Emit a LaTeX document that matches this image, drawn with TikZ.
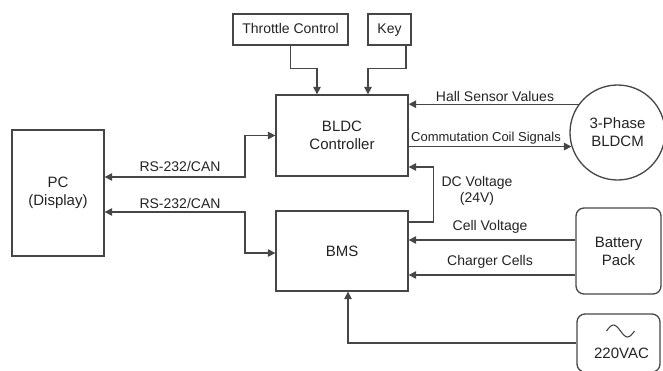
\documentclass[tikz,border=0pt]{standalone}
\usepackage{fontspec}
\setmainfont{Liberation Sans}
\usetikzlibrary{arrows.meta,calc}
\definecolor{lc}{RGB}{70,70,70}
\definecolor{tc}{RGB}{35,35,35}
\begin{document}
\begin{tikzpicture}[x=1pt,y=-1pt,
  box/.style={draw=lc, line width=1.3pt, text=tc, font=\fontsize{15}{18}\selectfont, align=center, inner sep=0pt},
  topbox/.style={box, font=\fontsize{14}{16}\selectfont, text height=10pt, text depth=3pt, minimum height=31pt},
  lbl/.style={text=tc, font=\fontsize{14}{16}\selectfont, inner sep=0pt, align=center},
  arr/.style={draw=lc, line width=1.3pt, -{Triangle[length=7.5pt,width=7.5pt]}},
  darr/.style={draw=lc, line width=1.3pt, {Triangle[length=7.5pt,width=7.5pt]}-{Triangle[length=7.5pt,width=7.5pt]}}]
\useasboundingbox (0,0) rectangle (663,370);
% nodes
\node[topbox, minimum width=115pt] (thr) at (290.5,29.5) {Throttle Control};
\node[topbox, minimum width=43pt] (key) at (389.5,29.5) {Key};
\node[box, minimum width=132pt, minimum height=81pt] (bldc) at (342,135.5) {BLDC\\Controller};
\node[box, minimum width=132pt, minimum height=80pt] (bms) at (342,251) {BMS};
\node[box, minimum width=92pt, minimum height=126pt] (pc) at (58,193) {PC\\(Display)};
\node[box, circle, minimum size=95pt] (mot) at (617.5,132.5) {3-Phase\\BLDCM};
\node[box, rounded corners=8pt, minimum width=85pt, minimum height=86pt] (bat) at (618.5,251) {Battery\\Pack};
\node[box, rounded corners=8pt, minimum width=83pt, minimum height=58pt] (ac) at (618.5,343) {};
\node[lbl, font=\fontsize{15}{18}\selectfont] (acl) at ($(ac.center)+(3,10)$) {220VAC};
\draw[lc, line width=1.1pt] ($(ac.center)+(-12,-12)$) sin ++(7,-6) cos ++(7,6) sin ++(7,6) cos ++(7,-6);
% connectors top
\draw[arr] (thr.south) -- ++(0,23) -| ($(bldc.north)+(-25,0)$);
\draw[arr] ($(key.south)+(16.5,0)$) -- ++(0,23) -| ($(bldc.north)+(26,0)$);
% PC links
\coordinate (j1) at (245,177);
\coordinate (j2) at (245,212);
\draw[darr] (bldc.west) -| (j1) -- (pc.east |- j1);
\draw[darr] ($(bms.west)+(0,2)$) -| (j2) -- (pc.east |- j2);
\node[lbl] (l1) at (180,166) {RS-232/CAN};
\node[lbl] (l2) at (180,203) {RS-232/CAN};
% motor links
\draw[arr] (mot.144.6) -- (mot.144.6 -| bldc.east);
\draw[arr] (bldc.east |- mot.197.8) -- (mot.197.8);
\node[lbl] (l3) at (495,96) {Hall Sensor Values};
\node[lbl, font=\fontsize{13}{15}\selectfont] (l4) at (486,138) {Commutation Coil Signals};
% DC voltage
\draw[arr] ($(bms.east)+(0,-29)$) -- ++(25,0) |- ($(bldc.east)+(0,31.5)$);
\node[lbl] (l5) at (477,191) {DC Voltage\\(24V)};
% battery
\draw[arr] ($(bat.west)+(0,-11)$) -- (bms.east |- {$(bat.west)+(0,-11)$});
\draw[arr] ($(bat.west)+(0,24)$) -- (bms.east |- {$(bat.west)+(0,24)$});
\node[lbl] (l6) at (490,227) {Cell Voltage};
\node[lbl] (l7) at (490,262) {Charger Cells};
% AC
\draw[arr] (ac.west) -| ($(bms.south)+(6,0)$);
\end{tikzpicture}
\end{document}
